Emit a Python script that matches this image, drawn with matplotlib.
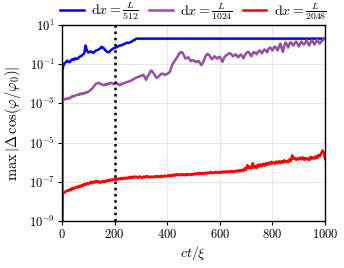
import numpy as np
import matplotlib
matplotlib.use("Agg")
import matplotlib.pyplot as plt
from matplotlib.ticker import FixedLocator, FuncFormatter, NullLocator

# -------- Data (log10 of max |d cos|) --------
blue_t = [0, 2] + list(range(5, 290, 5)) + [1000]
blue_log = [-12, -1.3,
            -1.1, -0.95, -0.9, -0.82, -0.88, -0.9, -0.8, -0.75, -0.78, -0.7,
            -0.74, -0.72, -0.65, -0.6, -0.58, -0.5, -0.45, -0.05, -0.3, -0.4,
            -0.38, -0.35, -0.4, -0.42, -0.35, -0.3, -0.28, -0.25, -0.2, -0.12,
            -0.15, -0.2, -0.3, -0.35, -0.4, -0.38, -0.3, -0.25, -0.2, -0.17,
            -0.15, -0.12, -0.08, -0.05, -0.04, -0.02, 0.02, 0.05, 0.08, 0.1,
            0.08, 0.12, 0.15, 0.2, 0.22, 0.28, 0.301,
            0.301]

grid_t = [0, 2] + list(range(5, 1001, 5))

purple_log = [-12, -2.85,
              -2.83, -2.8, -2.76, -2.78, -2.72, -2.74, -2.68, -2.62, -2.65, -2.6,
              -2.58, -2.55, -2.57, -2.5, -2.53, -2.48, -2.5, -2.44, -2.45, -2.4,
              -2.36, -2.3, -2.25, -2.15, -2.08, -2.0, -1.98, -1.95, -2.0, -2.02,
              -2.05, -2.08, -2.02, -2.05, -1.98, -2.0, -1.95, -1.97, -2.02, -2.0,
              -1.96, -1.98, -2.04, -2.08, -2.0, -2.02, -1.96, -1.95, -1.92, -1.9,
              -1.88, -1.85, -1.82, -1.78, -1.74, -1.7, -1.68, -1.65, -1.62, -1.6,
              -1.56, -1.55, -1.68, -1.8, -1.62, -1.55, -1.4, -1.32, -1.4, -1.5,
              -1.62, -1.7, -1.65, -1.6, -1.52, -1.48, -1.5, -1.55, -1.52, -1.5,
              -1.45, -1.4, -1.2, -1.0, -0.9, -0.8, -0.7, -0.6, -0.48, -0.4,
              -0.38, -0.45, -0.6, -0.72, -0.68, -0.65, -0.75, -0.85, -0.8, -0.8,
              -0.86, -0.9, -0.84, -0.85, -0.95, -1.05, -0.95, -0.8, -0.62, -0.5,
              -0.48, -0.55, -0.65, -0.75, -0.68, -0.6, -0.66, -0.72, -0.65, -0.62,
              -0.75, -0.88, -0.72, -0.6, -0.55, -0.5, -0.45, -0.45, -0.52, -0.6,
              -0.55, -0.5, -0.58, -0.65, -0.56, -0.5, -0.6, -0.7, -0.55, -0.45,
              -0.38, -0.38, -0.5, -0.6, -0.45, -0.38, -0.42, -0.5, -0.38, -0.3,
              -0.35, -0.45, -0.32, -0.25, -0.3, -0.4, -0.22, -0.15, -0.2, -0.3,
              -0.15, -0.1, -0.2, -0.3, -0.1, 0.05, -0.2, -0.38, -0.05, 0.1,
              0.0, -0.15, 0.05, 0.12, 0.0, -0.05, 0.08, 0.15, 0.02, -0.1,
              0.05, 0.15, 0.05, 0.0, 0.1, 0.2, 0.05, -0.05, 0.12, 0.22,
              0.1, 0.0, 0.12, 0.25, 0.12, 0.05, 0.15, 0.2, 0.28, 0.32]

red_log = [-12, -7.65,
           -7.6, -7.52, -7.5, -7.43, -7.46, -7.38, -7.42, -7.3, -7.36, -7.3,
           -7.25, -7.3, -7.2, -7.26, -7.16, -7.2, -7.1, -7.15, -7.06, -7.12,
           -7.05, -7.0, -7.08, -6.98, -7.04, -6.95, -7.02, -6.97, -7.05, -7.0,
           -6.96, -7.02, -6.94, -6.98, -6.9, -6.95, -6.88, -6.93, -6.86, -6.9,
           -6.84, -6.9, -6.82, -6.87, -6.8, -6.86, -6.79, -6.84, -6.78, -6.83,
           -6.76, -6.82, -6.74, -6.8, -6.72, -6.78, -6.74, -6.8, -6.72, -6.76,
           -6.8, -6.73, -6.78, -6.7, -6.76, -6.72, -6.78, -6.73, -6.77, -6.72,
           -6.76, -6.7, -6.75, -6.71, -6.76, -6.69, -6.74, -6.68, -6.72, -6.7,
           -6.66, -6.72, -6.65, -6.7, -6.63, -6.68, -6.6, -6.66, -6.62, -6.67,
           -6.6, -6.66, -6.62, -6.67, -6.59, -6.64, -6.6, -6.65, -6.6, -6.63,
           -6.57, -6.62, -6.56, -6.61, -6.54, -6.6, -6.55, -6.59, -6.53, -6.58,
           -6.52, -6.57, -6.5, -6.56, -6.52, -6.55, -6.49, -6.54, -6.5, -6.55,
           -6.48, -6.53, -6.47, -6.52, -6.46, -6.51, -6.47, -6.5, -6.44, -6.5,
           -6.45, -6.48, -6.42, -6.47, -6.4, -6.45, -6.38, -6.44, -6.3, -6.38,
           -6.15, -6.3, -6.22, -6.32, -6.05, -6.28, -6.2, -6.3, -6.12, -6.22,
           -6.1, -6.2, -6.08, -6.17, -6.05, -6.14, -6.02, -6.1, -5.98, -6.06,
           -6.0, -6.08, -5.96, -6.05, -5.95, -6.04, -5.94, -6.02, -5.9, -5.98,
           -5.92, -6.0, -5.85, -5.95, -5.65, -5.82, -5.78, -5.88, -5.8, -5.86,
           -5.76, -5.85, -5.75, -5.88, -5.78, -5.86, -5.8, -5.9, -5.72, -5.82,
           -5.75, -5.82, -5.7, -5.78, -5.62, -5.7, -5.55, -5.4, -5.5, -5.85]

labels = [r"$\mathrm{d}x = \frac{L}{512}$",
          r"$\mathrm{d}x = \frac{L}{1024}$",
          r"$\mathrm{d}x = \frac{L}{2048}$"]
colors = ["#0000ff", "#984ea3", "#ff0000"]
marker_t = 200

# -------- Style --------
plt.rcParams["font.family"] = "serif"
plt.rcParams["font.serif"] = ["cmr10"]
plt.rcParams["mathtext.fontset"] = "cm"
plt.rcParams["axes.formatter.use_mathtext"] = True
plt.rcParams["font.size"] = 9

fig = plt.figure(figsize=(3.44, 2.68), dpi=100)
ax = fig.add_axes([0.180, 0.175, 0.765, 0.732])

series = [(blue_t, blue_log), (grid_t, purple_log), (grid_t, red_log)]
for (t, lg), c, lab in zip(series, colors, labels):
    ax.plot(t, 10.0 ** np.array(lg), color=c, lw=1.8, label=lab)

ax.axvline(marker_t, color="black", ls=(0, (1, 1.5)), lw=1.8)

ax.set_yscale("log")
ax.set_xlim(0, 1000)
ax.set_ylim(1e-9, 1e1)
ax.yaxis.set_major_locator(FixedLocator([1e-9, 1e-7, 1e-5, 1e-3, 1e-1, 1e1]))
ax.yaxis.set_minor_locator(NullLocator())
ax.set_xticks([0, 200, 400, 600, 800, 1000])
ax.xaxis.set_major_formatter(FuncFormatter(lambda v, p: f"${v:g}$"))
ax.yaxis.set_major_formatter(FuncFormatter(lambda v, p: r"$10^{%d}$" % round(np.log10(v))))
ax.tick_params(direction="out", length=3, width=0.8, labelsize=9, pad=2)
ax.grid(True, color="#e8e8e8", lw=0.8)
ax.set_axisbelow(True)
for s in ax.spines.values():
    s.set_linewidth(1.0)

ax.set_xlabel(r"$ct/\xi$", fontsize=10, labelpad=2)
ax.set_ylabel(r"$\max\,|\Delta\,\cos(\varphi/\varphi_0)|$", fontsize=10.5, labelpad=4)

ax.legend(loc="lower center", bbox_to_anchor=(0.5, 0.985), ncol=3, frameon=False,
          handlelength=1.7, handletextpad=0.55, columnspacing=0.7, borderaxespad=0.0,
          fontsize=10)

fig.savefig("out.png", dpi=100)
